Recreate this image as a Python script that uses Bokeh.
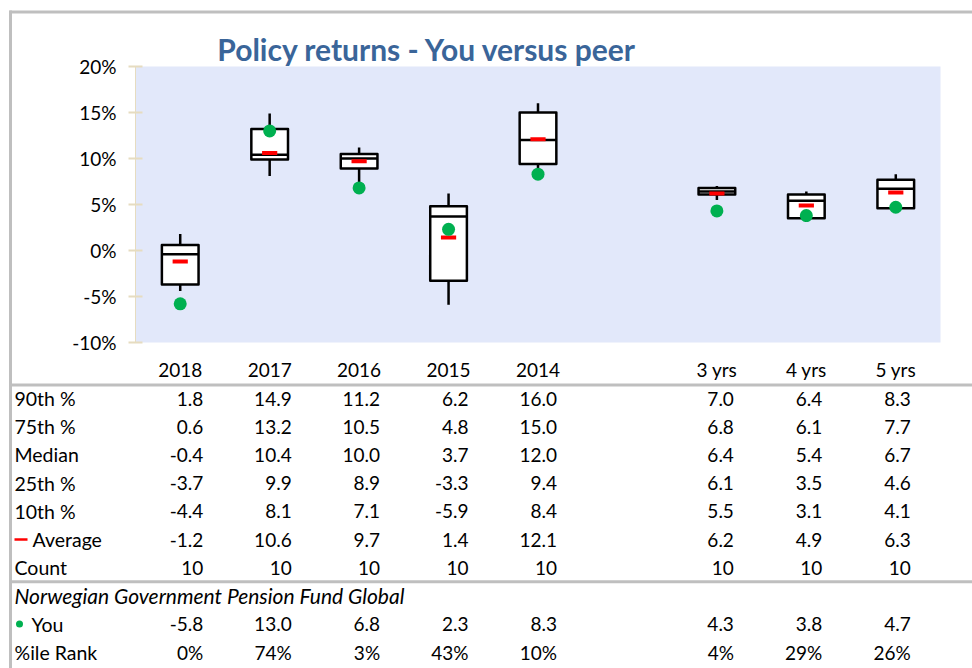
from bokeh.plotting import figure
from bokeh.models import (ColumnDataSource, Range1d, FixedTicker, PrintfTickFormatter,
                          LinearScale, BoxAnnotation)
from bokeh.core.properties import value
from bokeh.transform import dodge
from bokeh.embed import file_html
from bokeh.resources import INLINE

# ---------------- data ----------------
categories = ["2018", "2017", "2016", "2015", "2014", "3 yrs", "4 yrs", "5 yrs"]
axis_slots = ["2018", "2017", "2016", "2015", "2014", "", "3 yrs", "4 yrs", "5 yrs"]
p90 = [1.8, 14.9, 11.2, 6.2, 16.0, 7.0, 6.4, 8.3]
p75 = [0.6, 13.2, 10.5, 4.8, 15.0, 6.8, 6.1, 7.7]
median = [-0.4, 10.4, 10.0, 3.7, 12.0, 6.4, 5.4, 6.7]
p25 = [-3.7, 9.9, 8.9, -3.3, 9.4, 6.1, 3.5, 4.6]
p10 = [-4.4, 8.1, 7.1, -5.9, 8.4, 5.5, 3.1, 4.1]
average = [-1.2, 10.6, 9.7, 1.4, 12.1, 6.2, 4.9, 6.3]
count = [10, 10, 10, 10, 10, 10, 10, 10]
you = [-5.8, 13.0, 6.8, 2.3, 8.3, 4.3, 3.8, 4.7]
pct_rank = [0, 74, 3, 43, 10, 4, 29, 26]
y_ticks = [-10, -5, 0, 5, 10, 15, 20]
y_min, y_max = -10, 20
title_text = "Policy returns - You versus peer"
fund_name = "Norwegian Government Pension Fund Global"
row_labels = ["90th %", "75th %", "Median", "25th %", "10th %", "Average", "Count",
              fund_name, "You", "%ile Rank"]

# ---------------- layout constants (pixels) ----------------
W, H = 972, 668
PL, PR, PT, PB = 135, 940, 66, 342        # plot-area box
FONT = "Lato"
FS = "19px"
GRAY = "#bfbfbf"

n_slots = len(axis_slots)
xpos = [axis_slots.index(c) for c in categories]
px_per_x = (PR - PL) / n_slots
px_per_y = (PB - PT) / (y_max - y_min)

p = figure(width=W, height=H,
           x_range=Range1d(-0.5 - PL / px_per_x, n_slots - 0.5 + (W - PR) / px_per_x),
           y_range=Range1d(y_min - (H - PB) / px_per_y, y_max + PT / px_per_y),
           min_border=0, output_backend="svg", toolbar_location=None, tools="")
p.extra_x_ranges = {"px": Range1d(0, W)}
p.extra_x_scales = {"px": LinearScale()}
p.extra_y_ranges = {"py": Range1d(H, 0)}      # top-down pixel rows
p.extra_y_scales = {"py": LinearScale()}

p.background_fill_color = "white"
p.border_fill_color = "white"
p.outline_line_color = None
p.grid.visible = False

# plot-area background
p.add_layout(BoxAnnotation(left=-0.5, right=n_slots - 0.5, bottom=y_min, top=y_max,
                           fill_color="#e2e8fa", fill_alpha=1, line_color=None,
                           level="underlay"))

# y axis
p.yaxis.fixed_location = -0.5
p.yaxis.bounds = (y_min, y_max)
p.yaxis.ticker = FixedTicker(ticks=y_ticks)
p.yaxis.formatter = PrintfTickFormatter(format="%d%%")
p.yaxis.axis_line_color = "#e6dcc0"
p.yaxis.major_tick_line_color = "#e6dcc0"
p.yaxis.major_tick_line_width = 2
p.yaxis.major_tick_out = 7
p.yaxis.major_tick_in = 7
p.yaxis.minor_tick_line_color = None
p.yaxis.major_label_standoff = 12
p.yaxis.major_label_text_font = FONT
p.yaxis.major_label_text_font_size = FS
p.yaxis.major_label_text_color = "black"

# x axis
p.xaxis.fixed_location = y_min
p.xaxis.bounds = (-0.5, n_slots - 0.5)
p.xaxis.ticker = FixedTicker(ticks=xpos)
p.xaxis.major_label_overrides = {x: c for x, c in zip(xpos, categories)}
p.xaxis.axis_line_color = None
p.xaxis.major_tick_line_color = None
p.xaxis.minor_tick_line_color = None
p.xaxis.major_tick_out = 0
p.xaxis.major_label_standoff = 15
p.xaxis.major_label_text_font = FONT
p.xaxis.major_label_text_font_size = FS
p.xaxis.major_label_text_color = "black"

# ---------------- box plot ----------------
src = ColumnDataSource(dict(x=xpos, p90=p90, p75=p75, med=median, p25=p25,
                            p10=p10, avg=average, you=you))
BW = 0.41
p.segment(x0="x", y0="p10", x1="x", y1="p90", source=src, line_color="black", line_width=2.5)
p.vbar(x="x", top="p75", bottom="p25", width=BW, source=src, fill_color="white",
       line_color="black", line_width=2.5, line_join="round")
p.segment(x0=dodge("x", -BW / 2), y0="med", x1=dodge("x", BW / 2), y1="med",
          source=src, line_color="black", line_width=2.5)
p.rect(x="x", y="avg", width=0.17, height=4, height_units="screen", source=src,
       fill_color="#ff0000", line_color=None)
p.scatter(x="x", y="you", size=13, source=src, fill_color="#00b050", line_color=None)

# ---------------- title ----------------
p.text(x=[427], y=[48], text=[title_text], x_range_name="px", y_range_name="py",
       text_align="center", text_baseline="middle", text_font=value(FONT),
       text_font_size="30px", text_font_style="bold", text_color="#3a6599")

# ---------------- table ----------------
ROW0, DROW = 398, 28.2
row_y = [ROW0 + DROW * i for i in range(10)]

rows = [[f"{v:.1f}" for v in p90], [f"{v:.1f}" for v in p75], [f"{v:.1f}" for v in median],
        [f"{v:.1f}" for v in p25], [f"{v:.1f}" for v in p10], [f"{v:.1f}" for v in average],
        [str(v) for v in count], None, [f"{v:.1f}" for v in you], [f"{v}%" for v in pct_rank]]
cell_x, cell_y, cell_t, cell_off = [], [], [], []
for r, vals in enumerate(rows):
    if vals is None:
        continue
    for c, t in enumerate(vals):
        cell_x.append(xpos[c])
        cell_y.append(row_y[r])
        cell_t.append(t)
        cell_off.append(23 - 1.0 * xpos[c])
cells = ColumnDataSource(dict(x=cell_x, y=cell_y, text=cell_t, off=cell_off))
p.text(x="x", y="y", text="text", x_offset="off", source=cells, y_range_name="py",
       text_align="right", text_baseline="middle", text_font=value(FONT),
       text_font_size=FS, text_color="black")

lab_x = [14, 14, 14, 14, 14, 32, 14, 14, 31, 14]
lab_src = ColumnDataSource(dict(x=[lab_x[i] for i in range(10) if i != 7],
                                y=[row_y[i] for i in range(10) if i != 7],
                                text=[row_labels[i] for i in range(10) if i != 7]))
p.text(x="x", y="y", text="text", source=lab_src, x_range_name="px", y_range_name="py",
       text_align="left", text_baseline="middle", text_font=value(FONT),
       text_font_size="19.5px", text_color="black")
p.text(x=[14], y=[row_y[7]], text=[fund_name], x_range_name="px", y_range_name="py",
       text_align="left", text_baseline="middle", text_font=value(FONT),
       text_font_size="21px", text_font_style="italic", text_color="black")

# legend marks in the row labels
p.segment(x0=[14], y0=[row_y[5]], x1=[27], y1=[row_y[5]], x_range_name="px",
          y_range_name="py", line_color="#ff0000", line_width=2.5)
p.scatter(x=[19], y=[row_y[8]], size=7, x_range_name="px", y_range_name="py",
          fill_color="#00b050", line_color=None)

# gray frame lines
sep_y = (row_y[6] + row_y[7]) / 2
p.segment(x0=[9, 9, 9, 10], y0=[11.5, 384.5, sep_y, 10], x1=[W, W, W, 10],
          y1=[11.5, 384.5, sep_y, H],
          x_range_name="px", y_range_name="py", line_color=GRAY, line_width=3)

open("out.html", "w").write(file_html(p, INLINE))
